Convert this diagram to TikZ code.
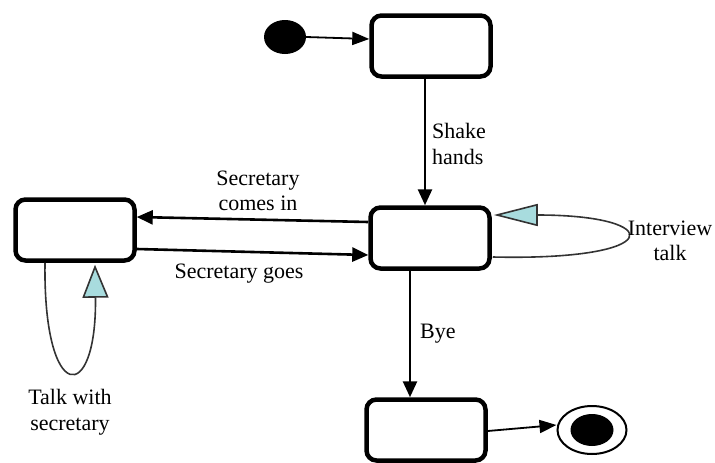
\documentclass[tikz,border=0pt]{standalone}
\usepackage{fontspec}
\setmainfont{Liberation Serif}
\newfontfamily\diagfont{Liberation Serif}
\usetikzlibrary{arrows.meta,shapes.geometric,calc}
\definecolor{tipblue}{HTML}{A8DCDE}
\definecolor{loopgray}{HTML}{333333}
\tikzset{
  statebox/.style={draw, line width=4.5pt, rounded corners=10pt, minimum width=119pt, minimum height=61pt, inner sep=0pt},
  trans/.style={line width=2.6pt, -{Triangle[length=16pt,width=14pt]}},
  thin trans/.style={line width=1.8pt, -{Triangle[length=17pt,width=13pt]}},
  selfloop/.style={draw=loopgray, line width=1.6pt},
  lbl/.style={font=\diagfont\fontsize{22}{25.5}\selectfont, align=center, inner sep=0pt}
}
\begin{document}
\begin{tikzpicture}[x=1pt,y=-1pt]
\useasboundingbox (0,0) rectangle (715,463);
% nodes
\node[ellipse, fill=black, minimum width=42pt, minimum height=34pt, inner sep=0pt] (init) at (285,37) {};
\node[statebox] (top) at (431,46) {};
\node[statebox] (mid) at (430,238) {};
\node[statebox] (left) at (75,230) {};
\node[statebox] (bot) at (426,430) {};
\node[ellipse, draw, line width=2pt, minimum width=69pt, minimum height=48pt, inner sep=0pt] (final) at (592,430) {};
\node[ellipse, fill=black, minimum width=43pt, minimum height=32pt, inner sep=0pt] (finalin) at (final.center) {};
% transitions
\draw[thin trans] (init.east) -- ([yshift=7pt]top.west);
\draw[trans] ([xshift=-6pt]top.south) -- ([xshift=-5pt]mid.north);
\draw[trans] ([yshift=16pt]mid.west) -- ([yshift=13pt]left.east);
\draw[trans] ([yshift=-19pt]left.east) -- ([yshift=-17pt]mid.west);
\draw[trans] ([xshift=-20pt]mid.south) -- ([xshift=-16pt]bot.north);
\draw[thin trans] ([yshift=-1pt]bot.east) -- ([yshift=5pt]final.west);
% self loops
\draw[selfloop, -{Triangle[length=44pt,width=22pt,fill=tipblue]}]
  ([yshift=-19pt,xshift=1pt]mid.east) .. controls ++(175,4) and ([yshift=23pt,xshift=175pt]mid.east) .. ([yshift=23pt,xshift=2pt]mid.east);
\draw[selfloop, -{Triangle[length=33pt,width=26pt,fill=tipblue]}]
  ([xshift=-30pt]left.south) .. controls ++(-2,143) and ([xshift=22pt,yshift=-143pt]left.south) .. ([xshift=20pt,yshift=-2pt]left.south);
% labels
\node[lbl, align=left, anchor=west] (lsh) at (432,144) {Shake\\hands};
\node[lbl] (lsc) at (258,191) {Secretary\\comes in};
\node[lbl] (lsg) at (239,274) {Secretary goes};
\node[lbl] (lit) at (670,241) {Interview\\talk};
\node[lbl] (lts) at (70,412) {Talk with\\secretary};
\node[lbl, anchor=west] (lbye) at (420,334) {Bye};
\end{tikzpicture}
\end{document}
